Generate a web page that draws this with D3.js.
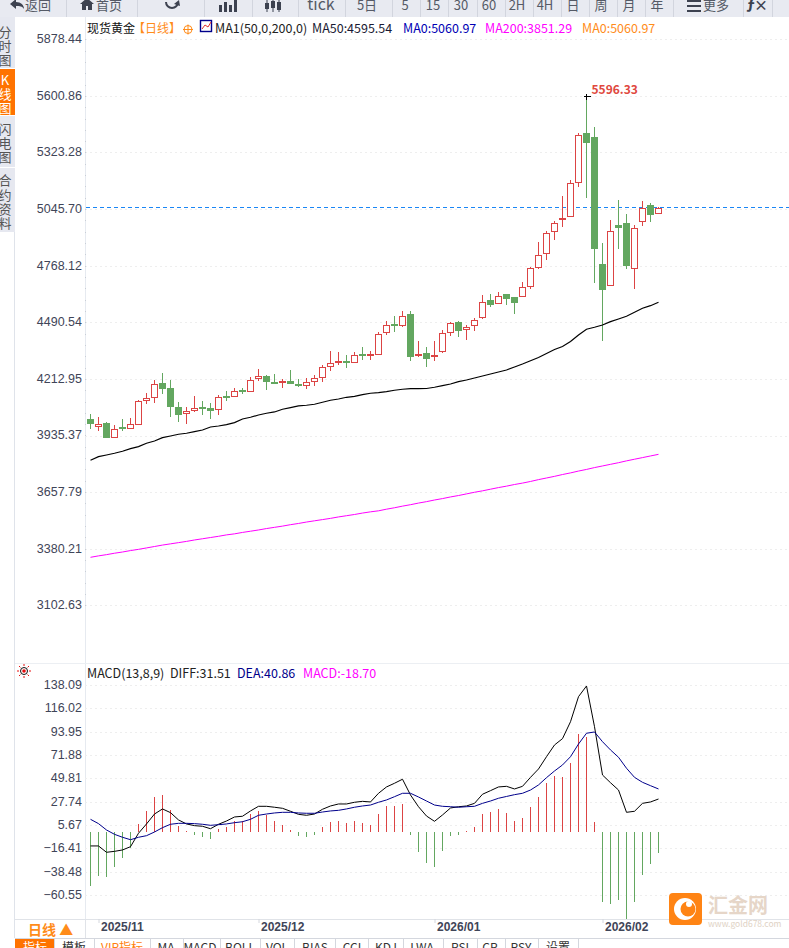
<!DOCTYPE html>
<html>
<head>
<meta charset="utf-8">
<script src="https://cdn.jsdelivr.net/npm/d3@7"></script>
<style>
  html, body { margin: 0; padding: 0; background: #fff; overflow: hidden; }
  svg { display: block; font-family: "Noto Sans CJK SC", "Open Sans", sans-serif; }
  .tick-label text { font-size: 12.5px; fill: #3f4558; }
  .grid line { stroke: #eeeeee; stroke-dasharray: 2 3; shape-rendering: crispEdges; }
  .grid path { display: none; }
</style>
</head>
<body>
<svg id="chart" width="789" height="948"></svg>
<script>
// daily candles, one entry per session
const opens = [4011.5,3978.7,3991.9,3924.7,3972.3,3970.8,3990.4,4106.2,4122.8,4188.1,4163.5,4070.4,4044.4,4059.1,4070.4,4065.5,4064.0,4124.3,4127.7,4155.2,4152.3,4214.0,4222.4,4196.4,
  4197.9,4197.9,4186.1,4179.7,4201.3,4220.9,4274.9,4292.5,4295.9,4292.5,4330.3,4326.8,4331.8,4439.6,4477.4,4474.0,4526.4,4325.4,4335.2,4321.9,4345.0,4439.6,4487.2,4454.4,
  4474.0,4511.7,4595.1,4581.9,4624.5,4609.8,4616.2,4665.2,4758.4,4829.0,4936.9,4997.2,5011.4,5177.2,5414.1,5394.4,4771.6,4672.1,4962.9,4972.7,4755.5,4984.0,5061.0,5025.2];
const highs = [4041.0,4026.2,4001.7,3985.5,4016.4,4021.3,4109.6,4143.9,4207.7,4242.0,4207.7,4099.8,4075.3,4129.2,4104.7,4094.9,4134.1,4153.7,4168.4,4168.4,4220.9,4261.6,4232.2,4237.1,
  4212.6,4256.7,4212.6,4216.0,4232.2,4281.2,4349.9,4345.0,4330.3,4345.0,4369.5,4349.9,4441.6,4497.0,4521.5,4546.1,4546.1,4398.9,4369.5,4398.9,4452.9,4492.1,4497.0,4477.4,
  4511.7,4624.5,4629.4,4639.2,4629.4,4614.7,4688.3,4761.8,4884.4,4938.4,4987.4,5110.0,5189.4,5417.5,5596.33,5448.4,4879.5,4992.3,5090.4,5021.7,4967.8,5085.5,5075.7,5056.1];
const lows = [3967.4,3959.0,3924.7,3924.7,3959.0,3970.8,3990.4,4091.4,4096.4,4140.5,4027.7,4003.2,3993.4,4050.8,4037.5,4017.9,4036.0,4104.7,4127.7,4140.5,4152.3,4202.8,4160.1,4188.1,
  4169.9,4189.5,4173.4,4165.0,4178.3,4197.9,4251.8,4281.2,4266.5,4292.5,4305.8,4305.8,4331.8,4428.9,4443.1,4469.1,4300.9,4319.0,4271.4,4300.9,4340.1,4423.5,4418.6,4403.8,
  4448.0,4506.8,4565.7,4581.9,4575.5,4531.3,4616.2,4653.9,4753.5,4797.9,4894.2,4957.9,5011.4,5155.6,5101.7,4683.4,4400.4,4672.1,4850.1,4752.9,4653.9,4962.9,4982.5,5025.2];
const closes = [3991.9,3990.4,3924.7,3965.9,3969.3,3990.4,4103.2,4114.5,4186.6,4165.0,4076.7,4037.5,4054.2,4068.9,4066.9,4057.1,4120.9,4120.9,4150.3,4152.3,4206.2,4222.4,4199.3,4193.0,
  4201.3,4189.5,4183.2,4196.4,4216.0,4269.9,4289.6,4295.9,4292.5,4328.8,4326.8,4330.3,4431.8,4475.9,4474.0,4520.1,4321.9,4330.3,4312.1,4325.4,4436.7,4485.7,4449.4,4466.1,
  4500.5,4588.7,4575.5,4618.1,4604.9,4585.3,4662.3,4755.5,4819.2,4927.1,4976.1,5000.6,5173.2,5407.7,5371.4,4851.6,4650.5,4936.9,4953.1,4768.2,4951.6,5049.7,5018.3,5049.7];

const ma50 = [3813.9,3831.5,3839.9,3848.2,3858.0,3870.8,3880.6,3897.3,3908.5,3924.7,3933.1,3941.4,3946.3,3954.1,3962.5,3977.2,3982.1,3988.5,3998.3,4016.4,4024.8,4036.0,4044.4,4050.8,
  4064.0,4071.8,4080.2,4083.6,4088.5,4098.3,4108.1,4114.5,4122.8,4127.7,4135.6,4142.5,4145.4,4150.3,4157.2,4162.1,4165.0,4165.0,4165.8,4171.9,4179.7,4188.1,4199.3,4207.7,
  4217.5,4227.3,4237.1,4246.9,4256.7,4271.4,4286.1,4302.3,4318.0,4337.6,4357.3,4372.0,4396.5,4428.4,4456.3,4466.1,4477.4,4493.6,4506.8,4520.1,4539.7,4559.3,4572.0,4588.7];
const ma200 = [3338,3345,3351,3358,3364,3371,3377,3384,3391,3398,3404,3410,3416,3423,3429,3435,3441,3448,3453,3460,3466,3472,3479,3485,
  3491,3498,3504,3511,3517,3523,3529,3536,3542,3548,3555,3561,3566,3574,3581,3589,3596,3604,3611,3619,3626,3634,3641,3649,
  3657,3664,3672,3680,3687,3695,3702,3710,3719,3727,3735,3744,3752,3761,3769,3778,3786,3794,3802,3811,3819,3827,3835,3843];

const macdHist = [-51.1,-41.6,-42.6,-33.1,-24.6,-15.1,7.6,19.9,33.1,35,20.8,5.7,0.5,-2.5,-4.7,-6.6,2.5,5,10.4,10,17,19.9,16,10.4,
  6.6,1.9,-3.8,-4.7,-2.8,4.7,9.5,10.4,8.5,10.4,8.5,6.6,17,24.6,24.6,26.5,-2.8,-18.9,-29.3,-33.1,-18,-3.8,-2.8,0.9,
  4.7,17,18.9,21.8,18,10.4,13.2,23.6,33.1,46.3,53,52,65.3,92.7,89.9,9.5,-66.2,-68.1,-64.3,-82.3,-66.2,-40.7,-30.3,-19.9];
const diff = [-13.2,-13.2,-19.2,-18.3,-17,-13.9,-1.2,7.6,17,21.8,18.3,11.4,7.6,6,5.4,3.1,7.3,10.4,14.2,14.9,19.9,24.3,24.3,23.4,
  22.4,19.6,16.7,15.8,17,21.5,24.6,26.5,26.5,28.1,29,28.4,36.6,42.6,46.1,49.9,35,23.9,15.1,10.1,16.1,22.7,23.9,24.6,
  27.1,35.7,39.1,42.6,43.2,40.7,43.2,51.7,59.6,71.2,82.3,88.3,104.3,128,138.1,99.6,53.9,46.6,39.7,18.6,19.6,27.1,28.4,31.2];
const dea = [12,7.9,1.9,-2.2,-5,-7.3,-5,-3.5,0,4.1,7.3,8.2,8.2,7.9,7.3,6.3,6.9,7.6,8.8,9.7,12,15.8,17,18,
  18.6,18.6,18,17.7,17.7,18.9,19.9,20.5,21.8,23.4,24.6,25.5,28.1,30.3,33.4,36.6,36.6,33.1,29.3,25.5,24.3,23.9,23.4,23.9,
  24.3,27.1,29.3,31.9,33.6,35.3,36.6,39.7,44.5,51.4,57.7,63.4,71.2,83.2,93.4,94.6,85.4,77.6,70.7,60.3,51.7,47,43.8,40.7];

const priceTicks = [5878.44,5600.86,5323.28,5045.70,4768.12,4490.54,4212.95,3935.37,3657.79,3380.21,3102.63];
const macdTicks = [138.09,116.02,93.95,71.88,49.81,27.74,5.67,-16.41,-38.48,-60.55];
const dateLabels = ["2025/11","2025/12","2026/01","2026/02"];
const dateIndex = [1,21,43,64];
const lastPrice = 5054;
const peakPrice = 5596.33, peakIndex = 62;

const RED = "#dc4444", GREEN = "#63a760", ORANGE = "#ff8c1a";

const svg = d3.select("#chart");
const x = d3.scaleLinear().domain([0, 71]).range([90.5, 658.5]);
const yPrice = d3.scaleLinear().domain([3102.63, 5878.44]).range([605.3, 39.3]);
const yMacd = d3.scaleLinear().domain([-60.55, 138.09]).range([896, 686]);

function label(parent, str, px, py, size, color, anchor, weight) {
    return parent.append("text")
        .attr("x", px).attr("y", py)
        .attr("font-size", size)
        .attr("fill", color)
        .attr("text-anchor", anchor || "start")
        .attr("font-weight", weight || "normal")
        .text(str);
}

// left hand tab strip
const tabs = svg.append("g");
const tabRows = [
    {chars: "分时图", from: 17, to: 68, ys: [37, 51, 65]},
    {chars: "K线图", from: 69, to: 115, ys: [85, 99, 113], on: true},
    {chars: "闪电图", from: 116, to: 167, ys: [134, 148, 162]},
    {chars: "合约资料", from: 168, to: 232, ys: [185, 200, 214, 228]},
];
tabRows.forEach(function(t) {
    tabs.append("rect").attr("x", 0).attr("y", t.from).attr("width", 15).attr("height", t.to - t.from)
        .attr("fill", t.on ? "#ff7300" : "#e6e8f0");
    Array.from(t.chars).forEach(function(c, i) {
        label(tabs, c, 5, t.ys[i], 13, t.on ? "#fff" : "#555", "middle");
    });
});
svg.append("line").attr("x1", 14.5).attr("x2", 14.5).attr("y1", 232).attr("y2", 938).attr("stroke", "#dfe3ea");
svg.append("line").attr("x1", 85.5).attr("x2", 85.5).attr("y1", 17).attr("y2", 919).attr("stroke", "#e6eaf0");
svg.append("line").attr("x1", 15).attr("x2", 789).attr("y1", 663.5).attr("y2", 663.5).attr("stroke", "#eceff3");

// price axis with dotted grid
const priceAxis = d3.axisLeft(yPrice).tickValues(priceTicks).tickFormat(d3.format(".2f")).tickSize(-704).tickPadding(4);
const gp = svg.append("g").attr("class", "grid tick-label").attr("transform", "translate(85,0)").call(priceAxis);
gp.selectAll("text").attr("dy", "0.27em").attr("x", -3);

// small marks between the labels
const minorPrice = d3.range(5878.44, 3102.63, -277.58 / 5);
svg.append("g").attr("transform", "translate(86,0)")
    .call(d3.axisLeft(yPrice).tickValues(minorPrice).tickSize(1).tickFormat(""))
    .call(g => g.select("path").remove())
    .selectAll("line").attr("stroke", "#c9ced6").attr("shape-rendering", "crispEdges");

// last price line
svg.append("line").attr("x1", 86).attr("x2", 789)
    .attr("y1", Math.round(yPrice(lastPrice)) + 0.5).attr("y2", Math.round(yPrice(lastPrice)) + 0.5)
    .attr("stroke", "#1a86f5").attr("stroke-dasharray", "4 3");

// candles
const candleData = opens.map((o, i) => ({i: i, o: o, h: highs[i], l: lows[i], c: closes[i]}));
const candles = svg.append("g").attr("shape-rendering", "crispEdges");
candles.selectAll(".wick").data(candleData).enter().append("line")
    .attr("class", "wick")
    .attr("x1", d => x(d.i)).attr("x2", d => x(d.i))
    .attr("y1", d => yPrice(d.h)).attr("y2", d => yPrice(d.l))
    .attr("stroke", d => d.c >= d.o ? RED : GREEN);
candles.selectAll(".body").data(candleData).enter().append("rect")
    .attr("class", "body")
    .attr("x", d => x(d.i) - 3)
    .attr("y", d => yPrice(Math.max(d.o, d.c)))
    .attr("width", 6)
    .attr("height", d => Math.max(1, Math.abs(yPrice(d.o) - yPrice(d.c))))
    .attr("fill", d => d.c >= d.o ? "#fff" : GREEN)
    .attr("stroke", d => d.c >= d.o ? RED : GREEN);

// moving averages
const priceLine = d3.line().x((d, i) => x(i)).y(d => yPrice(d));
svg.append("path").datum(ma50).attr("d", priceLine).attr("fill", "none").attr("stroke", "#000").attr("stroke-width", 1.2);
svg.append("path").datum(ma200).attr("d", priceLine).attr("fill", "none").attr("stroke", "#ff00ff").attr("stroke-width", 1);

// peak marker
const peakY = yPrice(peakPrice);
svg.append("path").attr("d", d3.line()([[x(peakIndex) - 3, peakY], [x(peakIndex) + 4, peakY]]))
    .attr("stroke", "#000").attr("shape-rendering", "crispEdges");
svg.append("path").attr("d", d3.line()([[x(peakIndex), peakY - 3], [x(peakIndex), peakY + 3]]))
    .attr("stroke", "#000").attr("shape-rendering", "crispEdges");
label(svg, "5596.33", x(peakIndex) + 5, peakY - 3, 12, "#e0483e", "start", "bold");

// header text
const head = svg.append("g");
label(head, "现货黄金", 87, 33, 12, "#111");
label(head, "【日线】", 133, 33, 12, ORANGE);
head.append("circle").attr("cx", 188).attr("cy", 29.5).attr("r", 4).attr("fill", "none").attr("stroke", ORANGE);
head.append("path").attr("d", "M183 29.5H193M188 24.5V34.5").attr("stroke", ORANGE).attr("fill", "none");
head.append("rect").attr("x", 200.5).attr("y", 20.5).attr("width", 11).attr("height", 11).attr("fill", "#fff").attr("stroke", "#00008b").attr("stroke-width", 1.4);
head.append("path").attr("d", "M202 29L205 25L208 27L211 22").attr("stroke", "#e03030").attr("fill", "none");
label(head, "MA1(50,0,200,0)", 215, 33, 12.5, "#222");
label(head, "MA50:4595.54", 312, 33, 12.5, "#1a1a33");
label(head, "MA0:5060.97", 403, 33, 12.5, "#0000b4");
label(head, "MA200:3851.29", 485, 33, 12.5, "#ff00ff");
label(head, "MA0:5060.97", 582, 33, 12.5, ORANGE);

// toolbar along the top, clipped by the window edge
const bar = svg.append("g");
bar.append("rect").attr("x", 0).attr("y", 0).attr("width", 789).attr("height", 17).attr("fill", "#e8eaf1");
const barSeps = [66,137,204,252,298,345,392,420,448,477,505,533,561,589,617,645,673,743,772];
barSeps.forEach(function(s) {
    bar.append("line").attr("x1", s + 0.5).attr("x2", s + 0.5).attr("y1", 0).attr("y2", 17).attr("stroke", "#d2d5de");
});
const barText = [["返回",38],["首页",109],["tick",321],["5日",367],["5",405],["15",433],["30",461],["60",489],["2H",517],["4H",545],["日",573],["周",601],["月",629],["年",657],["更多",716]];
barText.forEach(function(t) {
    label(bar, t[0], t[1], 10, t[0] === "tick" ? 16 : 13, "#555a66", "middle");
});
bar.append("path").attr("d", "M10 4L16 -1V2C21 2 24 5 24 9C22 6 20 6 16 6V9Z").attr("fill", "#3d4250");
bar.append("path").attr("d", "M80 4L87 -2L94 4H92V10H88V6H86V10H82V4Z").attr("fill", "#3d4250");
bar.append("path").attr("d", "M178 2A6 6 0 1 1 166 2").attr("fill", "none").attr("stroke", "#3d4250").attr("stroke-width", 2);
bar.append("path").attr("d", "M174 4L179 0L180 6Z").attr("fill", "#3d4250");
bar.append("path").attr("d", "M219 5H222V12H219ZM224 2H227V12H224ZM229 5H232V12H229ZM234 0H237V12H234Z").attr("fill", "#3d4250");
bar.append("path").attr("d", "M265 3H269V9H265ZM271 1H275V8H271ZM277 2H281V10H277Z").attr("fill", "#3d4250");
bar.append("path").attr("d", "M267 0V12M273 0V12M279 0V12").attr("stroke", "#3d4250").attr("fill", "none");
bar.append("path").attr("d", "M687 1H701M687 6H701M687 11H701").attr("stroke", "#3d4250").attr("stroke-width", 2).attr("fill", "none");
label(bar, "ƒ", 751, 10, 16, "#3d4250", "middle", "bold");
label(bar, "×", 761, 10, 14, "#3d4250", "middle", "bold");

// macd panel
const sun = svg.append("g").attr("transform", "translate(24,671)");
sun.append("circle").attr("r", 3.5).attr("fill", "#fff").attr("stroke", "#111");
sun.append("circle").attr("r", 1.8).attr("fill", "#e81010");
sun.append("path").attr("d", "M0 -7V-5M0 5V7M-7 0H-5M5 0H7M-5 -5L-3.6 -3.6M3.6 3.6L5 5M-5 5L-3.6 3.6M3.6 -3.6L5 -5")
    .attr("stroke", "#e81010").attr("fill", "none");

label(svg, "MACD(13,8,9)", 87, 678, 12.5, "#222");
label(svg, "DIFF:31.51", 170, 678, 12.5, "#222");
label(svg, "DEA:40.86", 237, 678, 12.5, "#00008b");
label(svg, "MACD:-18.70", 303, 678, 12.5, "#ff00ff");

const macdAxis = d3.axisLeft(yMacd).tickValues(macdTicks).tickFormat(d3.format(".2f")).tickSize(-704).tickPadding(4);
const gm = svg.append("g").attr("class", "grid tick-label").attr("transform", "translate(85,-1)").call(macdAxis);
gm.selectAll("text").attr("dy", "0.27em").attr("x", -3);

svg.append("g").attr("shape-rendering", "crispEdges").selectAll("line").data(macdHist).enter().append("line")
    .attr("x1", (d, i) => x(i)).attr("x2", (d, i) => x(i))
    .attr("y1", yMacd(0)).attr("y2", d => yMacd(d))
    .attr("stroke", d => d >= 0 ? RED : GREEN);

const macdLine = d3.line().x((d, i) => x(i)).y(d => yMacd(d));
svg.append("path").datum(diff).attr("d", macdLine).attr("fill", "none").attr("stroke", "#000").attr("stroke-width", 1);
svg.append("path").datum(dea).attr("d", macdLine).attr("fill", "none").attr("stroke", "#00008b").attr("stroke-width", 1);

// date axis
const dateAxis = d3.axisBottom(x).tickValues(dateIndex).tickFormat((d, i) => dateLabels[i]).tickSize(4).tickPadding(1);
const gd = svg.append("g").attr("transform", "translate(0,919)").call(dateAxis);
gd.select("path").attr("stroke", "#e0e3e8").attr("d", "M15,0.5H789");
gd.selectAll("line").attr("stroke", "#d4d7de");
gd.selectAll("text").attr("text-anchor", "start").attr("x", 2).attr("y", 2).attr("dy", "0.8em")
    .attr("font-family", '"Liberation Sans", sans-serif')
    .attr("font-size", 12).attr("font-weight", "bold").attr("fill", "#3f4558");

// period selector and bottom tabs
svg.append("line").attr("x1", 85.5).attr("x2", 85.5).attr("y1", 919).attr("y2", 938).attr("stroke", "#e0e3e8");
label(svg, "日线 ▲", 28, 935, 14, ORANGE, "start", "bold");
svg.append("line").attr("x1", 15).attr("x2", 789).attr("y1", 938.5).attr("y2", 938.5).attr("stroke", "#d4d7de");
svg.append("rect").attr("x", 15).attr("y", 939).attr("width", 39).attr("height", 9).attr("fill", "#ff7300");
const bottomTabs = [["指标",35,"#fff"],["模板",74,"#333"],["VIP指标",122,"#ff7f0e"],["MA",166,"#333"],["MACD",200,"#333"],["BOLL",240,"#333"],["VOL",277,"#333"],["BIAS",315,"#333"],["CCI",352,"#333"],["KDJ",386,"#333"],["LWA",422,"#333"],["RSI",460,"#333"],["CR",490,"#333"],["PSY",521,"#333"],["设置",558,"#333"]];
bottomTabs.forEach(function(t) {
    label(svg, t[0], t[1], 952, 12, t[2], "middle");
});
[54,94,150,183,220,260,294,335,368,403,443,477,505,538,578].forEach(function(s) {
    svg.append("line").attr("x1", s + 0.5).attr("x2", s + 0.5).attr("y1", 939).attr("y2", 948).attr("stroke", "#d4d7de");
});

// watermark
const logo = svg.append("g");
logo.append("rect").attr("x", 669).attr("y", 893).attr("width", 33).attr("height", 32).attr("rx", 4).attr("fill", "#ff8414");
logo.append("circle").attr("cx", 685).attr("cy", 909).attr("r", 11).attr("fill", "#fff");
logo.append("circle").attr("cx", 688).attr("cy", 909).attr("r", 7.5).attr("fill", "#ff8414");
logo.append("circle").attr("cx", 689).attr("cy", 904).attr("r", 3).attr("fill", "#fff");
label(logo, "汇金网", 708, 913, 20, "#e6d6c8", "start", "bold");
label(logo, "www.gold678.com", 708, 927, 8.5, "#e0d2c4");
</script>
</body>
</html>
